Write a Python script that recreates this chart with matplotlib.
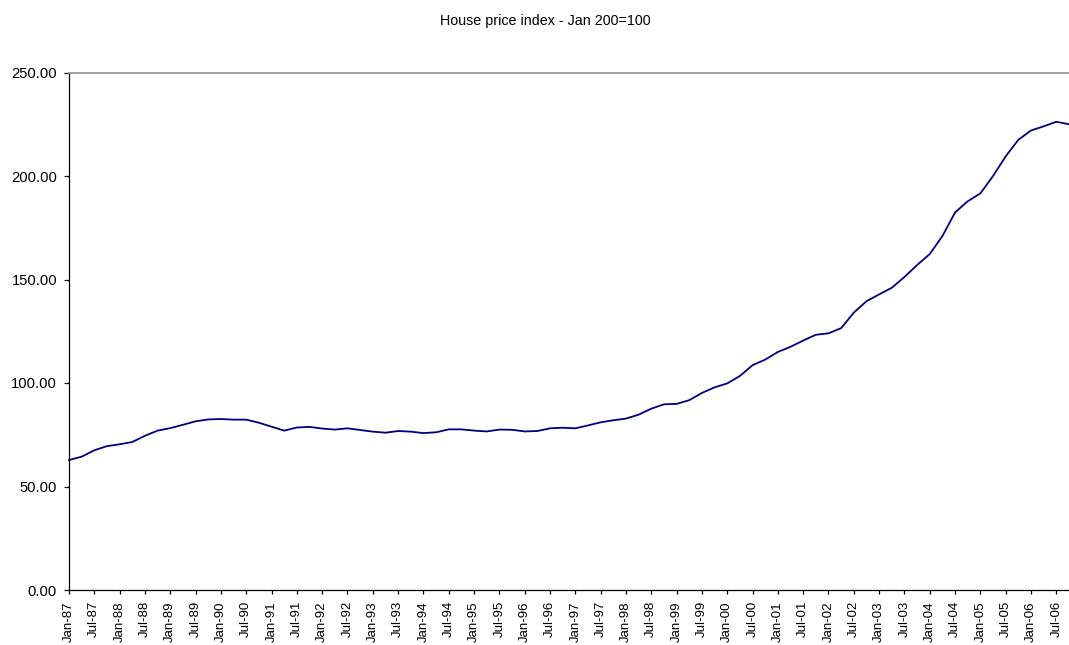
#!/usr/bin/env python3

import numpy as np
import matplotlib

matplotlib.use("Agg")
import matplotlib.pyplot as plt

plt.rcParams["font.family"] = ["Liberation Sans", "DejaVu Sans"]

# Quarterly readings (Jan, Apr, Jul, Oct) of the index, Jan 2000 = 100
years = list(range(1987, 2007))
quarter_months = [0, 3, 6, 9]
index_values = [
    62.8, 64.4, 67.5, 69.5,      # 1987
    70.4, 71.5, 74.5, 77.0,      # 1988
    78.2, 79.8, 81.5, 82.4,      # 1989
    82.6, 82.3, 82.3, 80.8,      # 1990
    78.9, 77.0, 78.5, 78.8,      # 1991
    78.0, 77.5, 78.1, 77.3,      # 1992
    76.5, 76.0, 76.8, 76.5,      # 1993
    75.8, 76.2, 77.6, 77.6,      # 1994
    77.0, 76.6, 77.5, 77.4,      # 1995
    76.6, 76.8, 78.1, 78.4,      # 1996
    78.1, 79.5, 81.0, 82.0,      # 1997
    82.8, 84.7, 87.6, 89.7,      # 1998
    89.9, 91.7, 95.2, 97.9,      # 1999
    99.8, 103.4, 108.6, 111.3,   # 2000
    115.0, 117.5, 120.5, 123.3,  # 2001
    124.0, 126.5, 134.0, 139.5,  # 2002
    142.8, 146.0, 151.2, 157.0,  # 2003
    162.3, 171.0, 182.4, 187.8,  # 2004
    191.6, 200.0, 209.5, 217.5,  # 2005
    222.0, 224.0, 226.2, 225.0,  # 2006
]
month_names = ["Jan", "Jul"]
y_ticks = [0, 50, 100, 150, 200, 250]


def plot_house_prices(file_image: str = "out.png") -> None:
    # months elapsed since Jan-87 for each reading
    months = np.array([12 * (y - years[0]) + q for y in years for q in quarter_months])
    values = np.array(index_values)

    fig = plt.figure(figsize=(10.69, 6.45), dpi=100)
    ax = fig.add_axes([69 / 1069, 55 / 645, 1000 / 1069, 517.5 / 645])

    ax.plot(
        months,
        values,
        color="#000080",
        linewidth=1.3,
        solid_joinstyle="round",
        clip_on=False,
    )

    ax.set_xlim(0, months[-1])
    ax.set_ylim(y_ticks[0], y_ticks[-1])

    tick_pos = np.arange(0, months[-1] + 1, 6)
    tick_lab = [
        f"{month_names[(m // 6) % 2]}-{(years[0] + m // 12) % 100:02d}" for m in tick_pos
    ]
    ax.set_xticks(tick_pos)
    ax.set_xticklabels(tick_lab, rotation=90, fontsize=9.5)
    ax.set_yticks(y_ticks)
    ax.set_yticklabels([f"{v:.2f}" for v in y_ticks], fontsize=10.6)

    ax.tick_params(axis="x", direction="out", length=3, width=0.9, pad=5, color="black")
    ax.tick_params(axis="y", direction="out", length=3.6, width=0.9, pad=5, color="black")

    for side in ("left", "bottom"):
        ax.spines[side].set_color("black")
        ax.spines[side].set_linewidth(0.9)
    ax.spines["top"].set_color("#9a9a9a")
    ax.spines["top"].set_linewidth(1.3)
    ax.spines["right"].set_visible(False)

    fig.text(
        545 / 1069,
        1 - 21 / 645,
        "House price index - Jan 200=100",
        ha="center",
        va="center",
        fontsize=10.3,
    )

    fig.savefig(file_image, dpi=100)


if __name__ == "__main__":
    plot_house_prices()
